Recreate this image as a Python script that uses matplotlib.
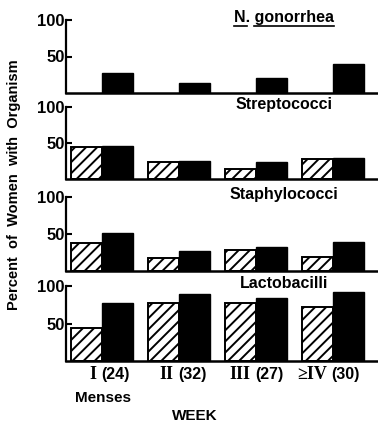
import matplotlib
matplotlib.use("Agg")
import matplotlib.pyplot as plt
import numpy as np

plt.rcParams['font.family'] = ['Liberation Sans', 'DejaVu Sans']
plt.rcParams['font.weight'] = 'bold'
plt.rcParams['hatch.linewidth'] = 1.4

# data (percent of women with organism)
numerals = ['I', 'II', 'III', '\u2265IV']
counts = ['(24)', '(32)', '(27)', '(30)']
organisms = ['N. gonorrhea', 'Streptococci', 'Staphylococci', 'Lactobacilli']
hatched = {
    'N. gonorrhea': None,
    'Streptococci': [44, 24, 14, 28],
    'Staphylococci': [38, 18, 28, 19],
    'Lactobacilli': [44, 77, 77, 72],
}
solid = {
    'N. gonorrhea': [28, 14, 20, 40],
    'Streptococci': [46, 25, 24, 29],
    'Staphylococci': [52, 27, 32, 39],
    'Lactobacilli': [77, 89, 84, 92],
}

W, H = 378, 422
fig = plt.figure(figsize=(W / 100, H / 100), dpi=100)

# axes rectangles in pixels: (y of 0, y of 100)
rows = [(93, 20), (179, 107), (271, 197), (361, 286)]
left_px, right_px = 66, 377
x = np.arange(len(numerals))
bw = 0.4

axes = []
for org, (y0, y100) in zip(organisms, rows):
    ax = fig.add_axes([left_px / W, 1 - y0 / H, (right_px - left_px) / W, (y0 - y100) / H])
    if hatched[org] is not None:
        ax.bar(x - bw / 2, hatched[org], bw, color='white', edgecolor='black',
               hatch='///', linewidth=1.4)
    ax.bar(x + bw / 2, solid[org], bw, color='black', edgecolor='black', linewidth=1.0)
    ax.set_xlim(-0.47, 3.57)
    ax.set_ylim(0, 100)
    ax.set_yticks([50, 100])
    ax.set_yticklabels(['50', '100'], fontsize=12, fontweight='bold')
    ax.tick_params(axis='y', direction='in', length=4, width=1.5, pad=1)
    ax.set_xticks([])
    for s in ['top', 'right']:
        ax.spines[s].set_visible(False)
    ax.spines['left'].set_linewidth(1.6)
    ax.spines['bottom'].set_linewidth(1.8)
    t = ax.text(0.70, 1.04, org, transform=ax.transAxes, ha='center', va='center',
                fontsize=11.5, fontweight='bold')
    axes.append((ax, t))

# underline the species name of the first panel
ax0, t0 = axes[0]
fig.canvas.draw()
r = fig.canvas.get_renderer()
bb = t0.get_window_extent(r)
inv = fig.transFigure.inverted()
(x0, y0), (x1, y1) = inv.transform([(bb.x0, bb.y0), (bb.x1, bb.y1)])
yl = y0 - 0.004
xg = x0 + (x1 - x0) * 0.2
fig.add_artist(plt.Line2D([x0, x0 + (x1 - x0) * 0.13], [yl, yl], color='black', lw=1.2))
fig.add_artist(plt.Line2D([xg, x1], [yl, yl], color='black', lw=1.2))

# week labels: roman numeral in serif, count in sans
ax_last = axes[-1][0]
tr = ax_last.get_xaxis_transform()
for xi, num, cnt in zip(x, numerals, counts):
    ax_last.annotate(num, (xi, 0), xycoords=tr, xytext=(-4, -10), textcoords='offset points',
                     ha='right', va='center', fontsize=13, fontweight='bold',
                     family=['Liberation Serif', 'DejaVu Serif'])
    ax_last.annotate(cnt, (xi, 0), xycoords=tr, xytext=(-1, -10), textcoords='offset points',
                     ha='left', va='center', fontsize=11.5, fontweight='bold')
fig.text(103 / W, 1 - 398 / H, 'Menses', ha='center', va='center', fontsize=11, fontweight='bold')
fig.text(195 / W, 1 - 416 / H, 'WEEK', ha='center', va='center', fontsize=11, fontweight='bold')
fig.text(14 / W, 1 - 185 / H, 'Percent  of  Women  with  Organism', rotation=90,
         ha='center', va='center', fontsize=10.5, fontweight='bold')

fig.savefig('out.png', dpi=100)
